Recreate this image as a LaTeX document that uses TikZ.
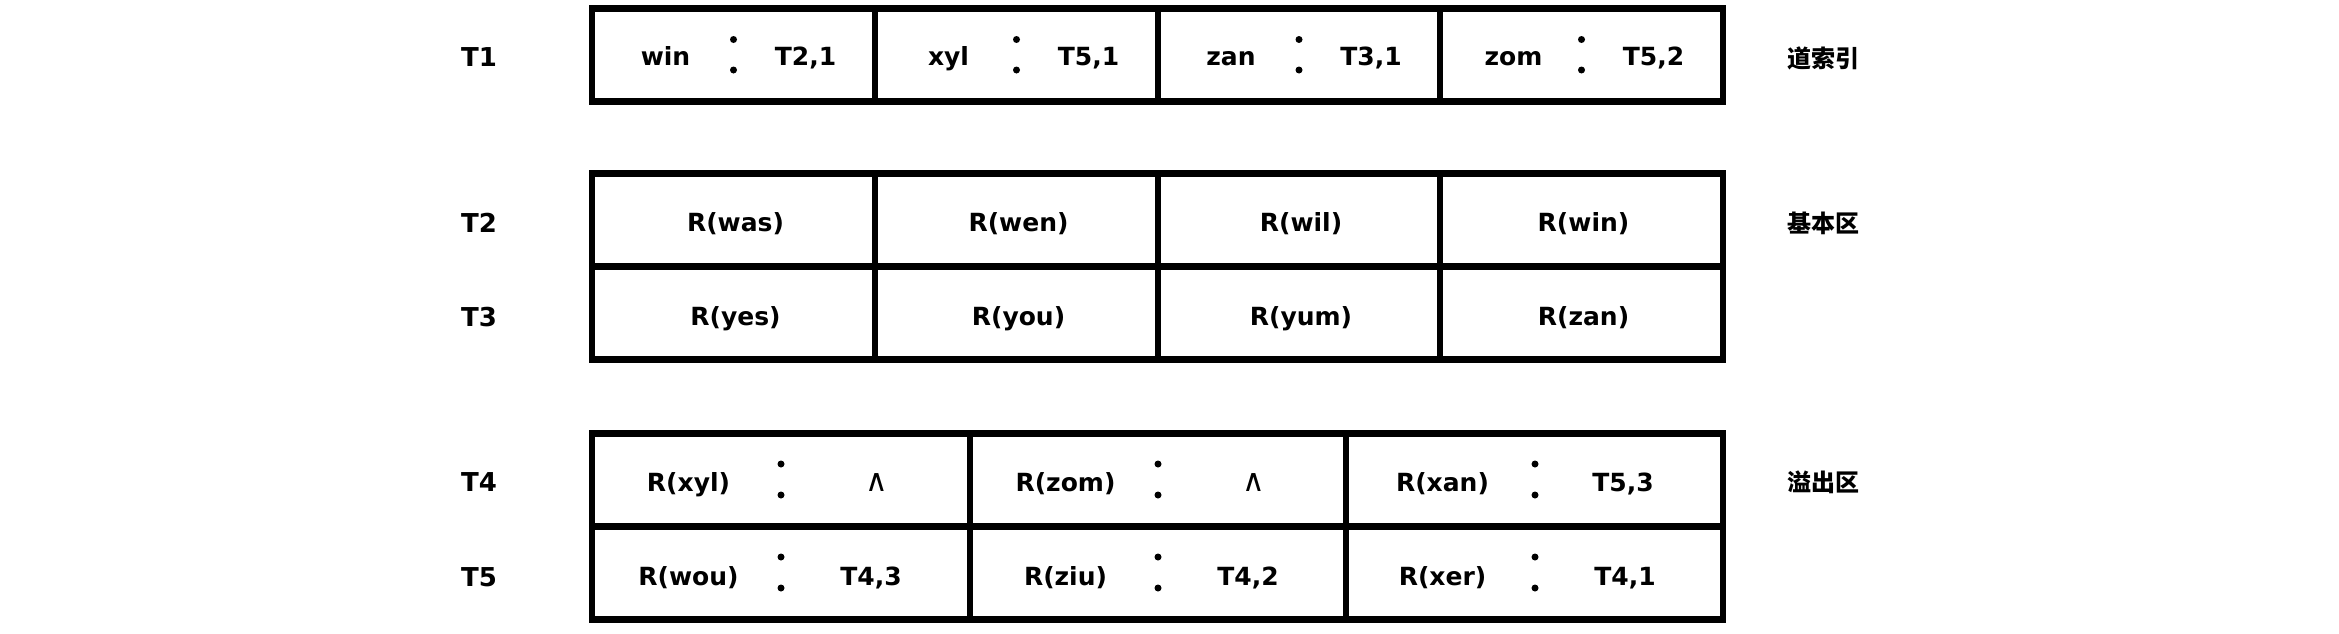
\documentclass[tikz,border=0pt]{standalone}
\usepackage{fontspec}
\setmainfont{DejaVu Sans}
\newfontfamily\cjk{Noto Sans CJK SC}
\begin{document}
\begin{tikzpicture}[x=1pt,y=-1pt,
  frame/.style={draw, line width=6.5pt, line join=miter},
  txt/.style={font=\bfseries\fontsize{25}{30}\selectfont, inner sep=0pt, anchor=base},
  nul/.style={font=\fontsize{31}{36}\selectfont, inner sep=0pt, anchor=base},
  rowlbl/.style={font=\bfseries\fontsize{26}{30}\selectfont, inner sep=0pt, anchor=base},
  zone/.style={font=\cjk\bfseries\fontsize{24}{28}\selectfont, inner sep=0pt, anchor=base},
  cdot/.style={circle, fill, minimum size=7pt, inner sep=0pt}]
\useasboundingbox (0,0) rectangle (2339,633);
% frames
\draw[frame] (592,8.5) rectangle (1723,101.5);
\foreach \x in {875,1158,1440} \draw[frame] (\x,8.5) -- (\x,101.5);
\draw[frame] (592,173.5) rectangle (1723,359.5);
\draw[frame] (592,266.5) -- (1723,266.5);
\foreach \x in {875,1158,1440} \draw[frame] (\x,173.5) -- (\x,359.5);
\draw[frame] (592,433.5) rectangle (1723,619.5);
\draw[frame] (592,526.5) -- (1723,526.5);
\foreach \x in {970,1346} \draw[frame] (\x,433.5) -- (\x,619.5);
% row labels
\node[rowlbl] (lT1) at (479,66) {T1};
\node[rowlbl] (lT2) at (479,232) {T2};
\node[rowlbl] (lT3) at (479,326) {T3};
\node[rowlbl] (lT4) at (479,491) {T4};
\node[rowlbl] (lT5) at (479,586) {T5};
% zone labels
\node[zone] (z1) at (1823,67) {道索引};
\node[zone] (z2) at (1823,232) {基本区};
\node[zone] (z3) at (1823,491) {溢出区};
% T1 index entries
\foreach \cx/\k/\p [count=\i] in {733.5/win/{T2,1},1016.5/xyl/{T5,1},1299/zan/{T3,1},1581.5/zom/{T5,2}}{
  \node[txt] (a\i) at (\cx-68,65.7) {\k};
  \node[txt] (b\i) at (\cx+72,65.7) {\p};
  \node[cdot] (c\i u) at (\cx,39.5) {};
  \node[cdot] (c\i d) at (\cx,70) {};
}
% T2, T3
\foreach \cx/\r [count=\i] in {733.5/was,1016.5/wen,1299/wil,1581.5/win}
  \node[txt] (p\i) at (\cx+2,231.7) {R(\r)};
\foreach \cx/\r [count=\i] in {733.5/yes,1016.5/you,1299/yum,1581.5/zan}
  \node[txt] (q\i) at (\cx+2,325) {R(\r)};
% T4
\foreach \cx/\r [count=\i] in {781/xyl,1158/zom}{
  \node[txt] (r\i) at (\cx-92.5,491.7) {R(\r)};
  \node[nul] (s\i) at (\cx+96,491.7) {∧};
}
\node[txt] (r3) at (1535-92.5,491.7) {R(xan)};
\node[txt] (s3) at (1535+88,491.7) {T5,3};
\foreach \cx [count=\i] in {781,1158,1535}{
  \node[cdot] (d\i u) at (\cx,464) {};
  \node[cdot] (d\i d) at (\cx,495) {};
}
% T5
\foreach \cx/\r/\p [count=\i] in {781/wou/{T4,3},1158/ziu/{T4,2},1535/xer/{T4,1}}{
  \node[txt] (u\i) at (\cx-92.5,585) {R(\r)};
  \node[txt] (v\i) at (\cx+90,585) {\p};
  \node[cdot] (e\i u) at (\cx,557) {};
  \node[cdot] (e\i d) at (\cx,588) {};
}
\end{tikzpicture}
\end{document}
